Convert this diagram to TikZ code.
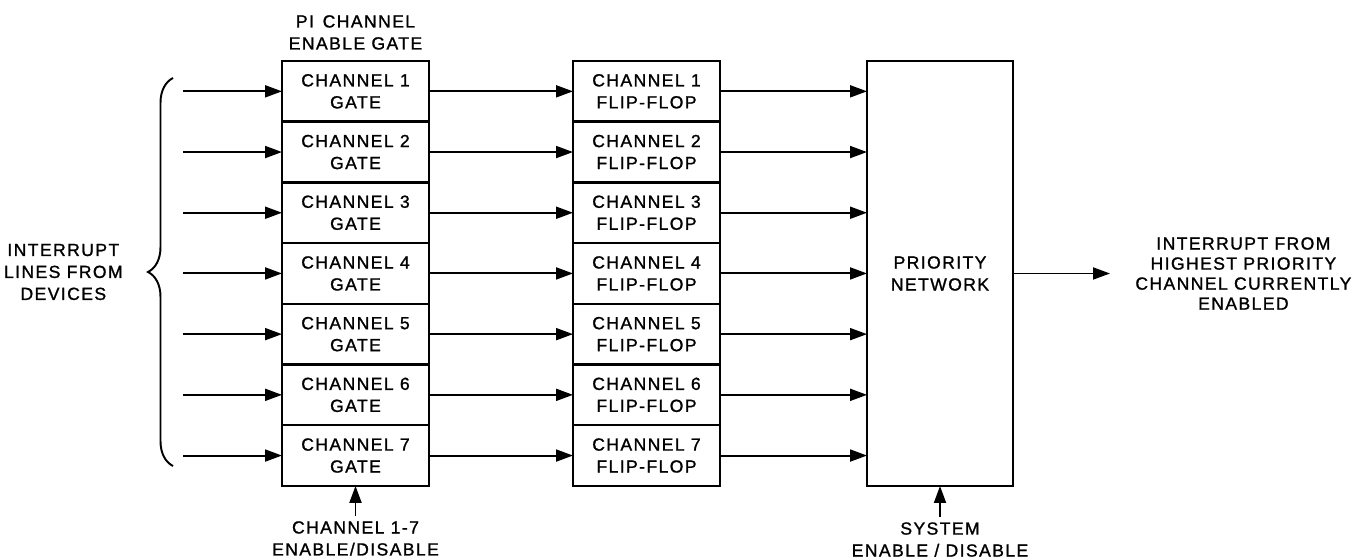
\documentclass[tikz,border=0pt]{standalone}
\usepackage{fontspec}
\setmainfont[LetterSpace=8, FakeBold=1.2]{Liberation Sans}
\usepackage{tikz}
\usetikzlibrary{positioning,arrows.meta,decorations.pathreplacing}

\begin{document}
\begin{tikzpicture}[
			font=\fontsize{10}{12.5}\selectfont,
			gatebox/.style={rectangle, draw, line width=1.4pt, minimum width=2.94cm, minimum height=1.214cm, outer sep=0pt, inner sep=0pt, align=center},
			flopbox/.style={rectangle, draw, line width=1.4pt, minimum width=2.94cm, minimum height=1.214cm, outer sep=0pt, inner sep=0pt, align=center},
			netbox/.style={rectangle, draw, line width=1.4pt, minimum width=2.92cm, minimum height=8.5cm, outer sep=0pt, align=center},
			signal/.style={line width=1.1pt, -{Triangle[length=3.4mm,width=2.4mm]}},
			description/.style={align=center, inner sep=0pt},
			]
			\useasboundingbox (0,0) rectangle (27.06,11.18);
			%Nodes
				\node[gatebox]		(gate1)		at (7.11,9.353)	{CHANNEL 1\\GATE};
				\node[gatebox]		(gate2)		[below=0pt of gate1]	{CHANNEL 2\\GATE};
				\node[gatebox]		(gate3)		[below=0pt of gate2]	{CHANNEL 3\\GATE};
				\node[gatebox]		(gate4)		[below=0pt of gate3]	{CHANNEL 4\\GATE};
				\node[gatebox]		(gate5)		[below=0pt of gate4]	{CHANNEL 5\\GATE};
				\node[gatebox]		(gate6)		[below=0pt of gate5]	{CHANNEL 6\\GATE};
				\node[gatebox]		(gate7)		[below=0pt of gate6]	{CHANNEL 7\\GATE};
				\node[flopbox]		(flop1)		[right=2.88cm of gate1]	{CHANNEL 1\\FLIP-FLOP};
				\node[flopbox]		(flop2)		[right=2.88cm of gate2]	{CHANNEL 2\\FLIP-FLOP};
				\node[flopbox]		(flop3)		[right=2.88cm of gate3]	{CHANNEL 3\\FLIP-FLOP};
				\node[flopbox]		(flop4)		[right=2.88cm of gate4]	{CHANNEL 4\\FLIP-FLOP};
				\node[flopbox]		(flop5)		[right=2.88cm of gate5]	{CHANNEL 5\\FLIP-FLOP};
				\node[flopbox]		(flop6)		[right=2.88cm of gate6]	{CHANNEL 6\\FLIP-FLOP};
				\node[flopbox]		(flop7)		[right=2.88cm of gate7]	{CHANNEL 7\\FLIP-FLOP};
				\node[netbox]		(network)	at (18.8,5.71)	{PRIORITY\\NETWORK};
				\node[description]	(gatetitle)	[above=0.22cm of gate1]	{PI\enspace CHANNEL\\ENABLE GATE};
				\node[description, inner sep=0.1cm]	(gateenable)	[below=0.6cm of gate7]	{CHANNEL 1-7\\ENABLE/DISABLE};
				\node[description, inner sep=0.1cm]	(netenable)	[below=0.62cm of network]	{SYSTEM\\ENABLE / DISABLE};
				\coordinate (bracetop) at (3.46,9.62);
				\coordinate (bracebot) at (3.46,1.86);
				\coordinate (bracetip) at (2.96,5.74);
				\node[description]	(devices)	[left=0.5cm of bracetip]	{INTERRUPT\\LINES FROM\\DEVICES};
				\coordinate[right=1.94cm of network.east] (out);
				\node[description, font=\fontsize{10}{11.4}\selectfont]	(outlabel)	[right=0.5cm of out]	{INTERRUPT FROM\\HIGHEST PRIORITY\\CHANNEL CURRENTLY\\ENABLED};
				\coordinate[left=1.98cm of gate1.west] (in1);
				\coordinate[left=1.98cm of gate2.west] (in2);
				\coordinate[left=1.98cm of gate3.west] (in3);
				\coordinate[left=1.98cm of gate4.west] (in4);
				\coordinate[left=1.98cm of gate5.west] (in5);
				\coordinate[left=1.98cm of gate6.west] (in6);
				\coordinate[left=1.98cm of gate7.west] (in7);

			%Lines
				\draw[decorate, decoration={brace, amplitude=0.5cm}, line width=1.1pt] (bracebot) -- (bracetop);
				\draw[signal] (in1) -- (gate1.west);
				\draw[signal] (in2) -- (gate2.west);
				\draw[signal] (in3) -- (gate3.west);
				\draw[signal] (in4) -- (gate4.west);
				\draw[signal] (in5) -- (gate5.west);
				\draw[signal] (in6) -- (gate6.west);
				\draw[signal] (in7) -- (gate7.west);
				\draw[signal] (gate1.east) -- (flop1.west);
				\draw[signal] (gate2.east) -- (flop2.west);
				\draw[signal] (gate3.east) -- (flop3.west);
				\draw[signal] (gate4.east) -- (flop4.west);
				\draw[signal] (gate5.east) -- (flop5.west);
				\draw[signal] (gate6.east) -- (flop6.west);
				\draw[signal] (gate7.east) -- (flop7.west);
				\draw[signal] (flop1.east) -- (flop1.east -| network.west);
				\draw[signal] (flop2.east) -- (flop2.east -| network.west);
				\draw[signal] (flop3.east) -- (flop3.east -| network.west);
				\draw[signal] (flop4.east) -- (flop4.east -| network.west);
				\draw[signal] (flop5.east) -- (flop5.east -| network.west);
				\draw[signal] (flop6.east) -- (flop6.east -| network.west);
				\draw[signal] (flop7.east) -- (flop7.east -| network.west);
				\draw[signal] (network.east) -- (out);
				\draw[signal] (gateenable.north) -- (gate7.south);
				\draw[signal] (netenable.north) -- (network.south);
		\end{tikzpicture}
\end{document}
